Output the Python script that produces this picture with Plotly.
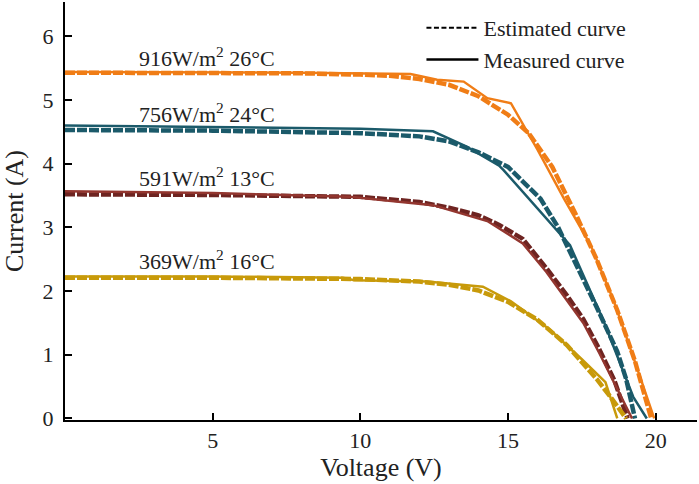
import plotly.graph_objects as go

# ---- data ----
# 916 W/m2 26 C
V_meas_916 = [0, 4, 8, 11.7, 12.6, 13.5, 14.3, 15.1, 16.0, 16.9, 17.8, 18.57, 19.07, 19.95]
I_meas_916 = [5.44, 5.44, 5.43, 5.41, 5.32, 5.29, 5.03, 4.95, 4.22, 3.45, 2.72, 1.86, 1.2, 0]
V_est_916 = [0, 4, 8, 10, 11, 12, 13, 14, 15, 15.7, 16.5, 17.3, 18, 18.7, 19.3, 19.85]
I_est_916 = [5.43, 5.43, 5.42, 5.40, 5.38, 5.33, 5.24, 5.06, 4.77, 4.48, 3.95, 3.2, 2.5, 1.7, 0.9, 0]

# 756 W/m2 24 C
V_meas_756 = [0, 5, 10, 12.46, 13.6, 14.7, 14.85, 17.1, 18.22, 19.24, 19.7]
I_meas_756 = [4.6, 4.58, 4.55, 4.51, 4.27, 3.97, 3.9, 2.72, 1.55, 0.34, 0]
V_est_756 = [0, 5, 10, 12, 13, 14, 15, 16.1, 16.7, 17.3, 18.0, 18.7, 19.0, 19.3]
I_est_756 = [4.53, 4.52, 4.48, 4.43, 4.35, 4.18, 3.95, 3.45, 3.0, 2.44, 1.75, 1.05, 0.62, 0]

# 591 W/m2 13 C
V_meas_591 = [0, 5, 9.64, 12.46, 14.3, 15.5, 16.3, 17.0, 17.55, 18.1, 18.6, 19.2]
I_meas_591 = [3.57, 3.54, 3.48, 3.35, 3.1, 2.75, 2.3, 1.86, 1.5, 1.02, 0.55, 0]
V_est_591 = [0, 5, 10, 12, 13, 14, 14.7, 15.5, 16.3, 17.0, 17.55, 18.1, 18.6, 19.05]
I_est_591 = [3.52, 3.51, 3.48, 3.4, 3.31, 3.19, 3.04, 2.82, 2.36, 1.93, 1.56, 1.08, 0.6, 0]

# 369 W/m2 16 C
V_meas_369 = [0, 5, 9.4, 9.8, 12.25, 14.15, 15.1, 16.4, 17.5, 18.3, 18.7]
I_meas_369 = [2.23, 2.23, 2.21, 2.17, 2.15, 2.07, 1.84, 1.4, 0.93, 0.57, 0]
V_est_369 = [0, 5, 10, 12, 13, 14, 15, 16, 17, 18, 18.5, 19.0]
I_est_369 = [2.21, 2.21, 2.19, 2.15, 2.1, 2.01, 1.83, 1.55, 1.15, 0.62, 0.32, 0]

labels = ["916W/m<sup>2</sup> 26°C", "756W/m<sup>2</sup> 24°C",
          "591W/m<sup>2</sup> 13°C", "369W/m<sup>2</sup> 16°C"]
label_V = [2.45, 2.45, 2.45, 2.45]
label_I = [5.67, 4.79, 3.79, 2.49]

x_ticks = [5, 10, 15, 20]
y_ticks = [0, 1, 2, 3, 4, 5, 6]

series = [
    (V_meas_916, I_meas_916, V_est_916, I_est_916, "#F07D16", "#F07D16"),
    (V_meas_756, I_meas_756, V_est_756, I_est_756, "#1B5A6A", "#1B5A6A"),
    (V_meas_591, I_meas_591, V_est_591, I_est_591, "#93362F", "#6E2421"),
    (V_meas_369, I_meas_369, V_est_369, I_est_369, "#C89A0A", "#C89A0A"),
]

FONT = "Liberation Serif"
fig = go.Figure()

for vm, im, ve, ie, cm, ce in series:
    fig.add_trace(go.Scatter(x=ve, y=ie, mode="lines", showlegend=False,
                             line=dict(color=ce, width=4.5, dash="10px,2px")))
    fig.add_trace(go.Scatter(x=vm, y=im, mode="lines", showlegend=False,
                             line=dict(color=cm, width=2.5)))

# legend entries
fig.add_trace(go.Scatter(x=[None], y=[None], mode="lines", name="Estimated curve",
                         line=dict(color="black", width=2, dash="5px,2.5px")))
fig.add_trace(go.Scatter(x=[None], y=[None], mode="lines", name="Measured curve",
                         line=dict(color="black", width=2.5)))

for t, xv, yv in zip(labels, label_V, label_I):
    fig.add_annotation(x=xv, y=yv, text=t, showarrow=False, xanchor="left",
                       yanchor="middle", font=dict(family=FONT, size=22, color="#222"))

fig.update_layout(
    width=699, height=484,
    margin=dict(l=65, r=2, t=2, b=64, autoexpand=False),
    paper_bgcolor="white", plot_bgcolor="white",
    font=dict(family=FONT, size=22, color="#222"),
    showlegend=True,
    legend=dict(x=0.564, y=0.988, xanchor="left", yanchor="top",
                bgcolor="rgba(0,0,0,0)", itemwidth=52,
                font=dict(family=FONT, size=22, color="#222")),
    xaxis=dict(range=[0, 21.4], tickvals=x_ticks, ticks="inside", ticklen=7,
               tickwidth=2, tickcolor="black", showline=True, linecolor="black",
               linewidth=2, showgrid=False, zeroline=False, automargin=False,
               title=dict(text="Voltage (V)", standoff=3)),
    yaxis=dict(range=[-0.024, 6.54], tickvals=y_ticks, ticks="inside", ticklen=7,
               tickwidth=2, tickcolor="black", showline=True, linecolor="black",
               linewidth=2, showgrid=False, zeroline=False, automargin=False,
               ticklabelstandoff=5,
               title=dict(text="Current (A)", standoff=20)),
)

fig.write_html("out.html", config={"displayModeBar": False},
               post_script="document.body.style.margin='0px';")
